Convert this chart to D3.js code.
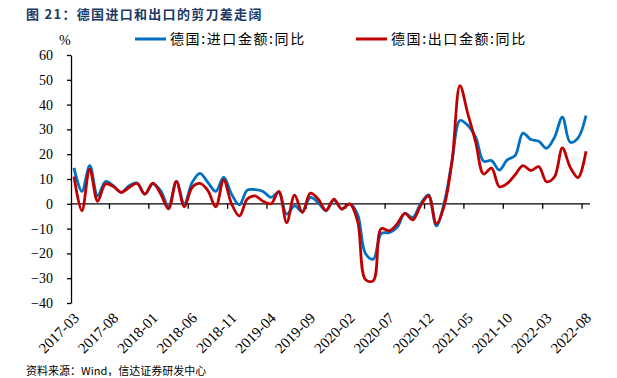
<!DOCTYPE html>
<html><head><meta charset="utf-8">
<script src="https://cdn.jsdelivr.net/npm/d3@7/dist/d3.min.js"></script>
<style>
html,body{margin:0;padding:0;background:#fff;}
svg{display:block;}
</style>
</head><body>
<svg id="c" width="617" height="378"></svg>
<script>
const categories = [
"2017-03","2017-04","2017-05","2017-06","2017-07","2017-08","2017-09","2017-10","2017-11","2017-12",
"2018-01","2018-02","2018-03","2018-04","2018-05","2018-06","2018-07","2018-08","2018-09","2018-10","2018-11","2018-12",
"2019-01","2019-02","2019-03","2019-04","2019-05","2019-06","2019-07","2019-08","2019-09","2019-10","2019-11","2019-12",
"2020-01","2020-02","2020-03","2020-04","2020-05","2020-06","2020-07","2020-08","2020-09","2020-10","2020-11","2020-12",
"2021-01","2021-02","2021-03","2021-04","2021-05","2021-06","2021-07","2021-08","2021-09","2021-10","2021-11","2021-12",
"2022-01","2022-02","2022-03","2022-04","2022-05","2022-06","2022-07","2022-08"];
const importYoY = [14.5,5,15.4,3.2,9,7.3,4.6,7.3,8.4,3.9,
8,5.3,-1.2,9,0,8.6,12.3,8.6,5,10.7,3.9,-0.4,
5.5,5.7,5,2.6,4.6,-4.2,-0.8,-3.1,2.6,0.5,-2.8,1.5,
-2.1,0,-4.2,-20,-22.3,-12,-11.6,-9.6,-3.9,-5.5,0,3.6,
-8.9,0.5,17.4,33.6,31.6,26.8,17.2,17.4,13.6,17.7,19.4,28.5,
25.9,25.2,22.4,26.8,34.9,24.8,26.6,35.6];
const exportYoY = [11,-2.8,14,1,8,7,4.6,6.6,8.2,3.9,
8.3,4,-2,9,-1.2,6.6,8.2,5.3,-1.2,9.6,0,-4.9,
1.9,3.2,1,0,5,-7.6,3.5,-3.5,4.3,1.9,-2.6,1.9,
-2.1,0,-6.9,-30.5,-31,-10,-10.9,-8.2,-3.9,-6.5,-0.8,3.2,
-8,-0.8,17.4,47.6,36.3,24.8,12,14.4,6.9,8.2,11.7,15.4,
13.4,15,8.9,10.9,22.5,14.7,10.6,21.2];
const yTicks = [-40,-30,-20,-10,0,10,20,30,40,50,60];
const seriesNames = ["德国:进口金额:同比","德国:出口金额:同比"];
const colors = ["#0070C0","#C00000"];
const titleText = "图 21：德国进口和出口的剪刀差走阔";
const sourceText = "资料来源：Wind，信达证券研发中心";

const svg = d3.select("#c");
const x = d3.scaleLinear().domain([0, categories.length - 1]).range([74, 586]);
const y = d3.scaleLinear().domain([-40, 60]).range([303, 55]);
const serif = "'Liberation Serif','Times New Roman',serif";
const cjk = "'Noto Sans CJK SC','Noto Sans CJK JP',sans-serif";

// title
svg.append("text").attr("x", 26).attr("y", 19)
  .attr("font-family", cjk).attr("font-weight", "bold").attr("font-size", 13)
  .attr("letter-spacing", 1.3).attr("fill", "#203864").text(titleText);

// y axis
const yAxis = d3.axisLeft(y).tickValues(yTicks).tickSize(4).tickSizeOuter(0).tickPadding(14);
const gy = svg.append("g").attr("transform", "translate(71,0)").call(yAxis);
gy.select(".domain").attr("stroke", "#000").attr("stroke-width", 1.3);
gy.selectAll(".tick line").attr("stroke", "#000").attr("stroke-width", 1.3);
gy.selectAll(".tick text").attr("font-family", serif).attr("font-size", 14).attr("fill", "#000");

svg.append("text").attr("x", 59).attr("y", 45).attr("font-family", serif)
  .attr("font-size", 14).text("%");

// x axis along zero
const zeroY = y(0);
svg.append("line").attr("x1", 71).attr("x2", x(categories.length - 0.5))
  .attr("y1", zeroY).attr("y2", zeroY).attr("stroke", "#000").attr("stroke-width", 1.3);
const tickIdx = d3.range(4.5, categories.length, 5);
svg.selectAll("line.xt").data(tickIdx).enter().append("line")
  .attr("x1", d => x(d)).attr("x2", d => x(d))
  .attr("y1", zeroY).attr("y2", zeroY + 5).attr("stroke", "#000").attr("stroke-width", 1.3);

const labelIdx = d3.range(0, categories.length, 5);
svg.selectAll("text.xl").data(labelIdx).enter().append("text")
  .attr("transform", d => `translate(${x(d) + 6},${319}) rotate(-45)`)
  .attr("text-anchor", "end").attr("font-family", serif).attr("font-size", 15)
  .attr("fill", "#000").text(d => categories[d]);

// lines
const line = d3.line().x((d, i) => x(i)).y(d => y(d)).curve(d3.curveCatmullRom.alpha(0.5));
[importYoY, exportYoY].forEach((s, k) => {
  svg.append("path").datum(s).attr("d", line).attr("fill", "none")
    .attr("stroke", colors[k]).attr("stroke-width", 2.8).attr("stroke-linejoin", "round");
});

// legend
const legX = [135, 356];
seriesNames.forEach((n, k) => {
  svg.append("line").attr("x1", legX[k]).attr("x2", legX[k] + 31).attr("y1", 39).attr("y2", 39)
    .attr("stroke", colors[k]).attr("stroke-width", 3);
  svg.append("text").attr("x", legX[k] + 35).attr("y", 44).attr("font-family", cjk)
    .attr("font-size", 14).attr("letter-spacing", 1.6).attr("fill", "#000").text(n);
});

// source
svg.append("text").attr("x", 26).attr("y", 375).attr("font-family", cjk)
  .attr("font-size", 11).attr("fill", "#000").text(sourceText);
</script>
</body></html>
